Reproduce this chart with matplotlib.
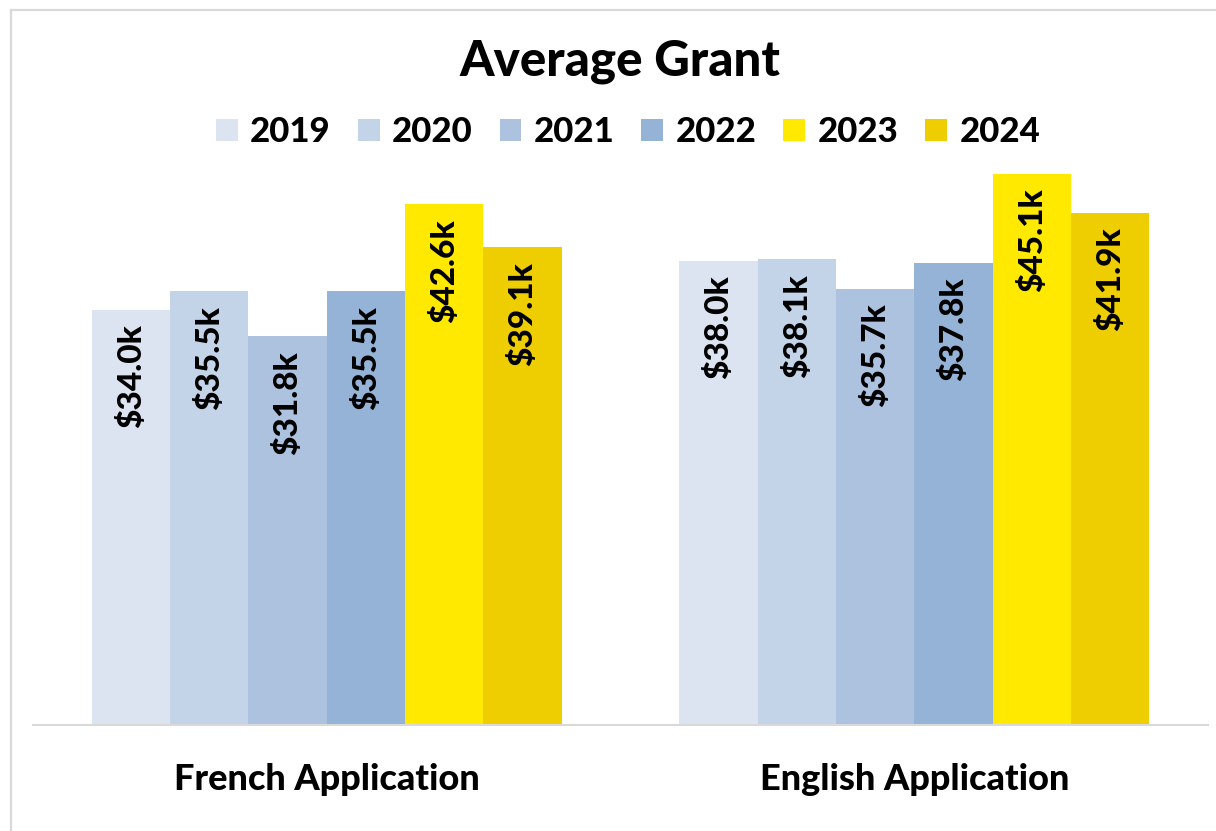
import matplotlib
matplotlib.use("Agg")
import matplotlib.pyplot as plt
from matplotlib.patches import Patch
from matplotlib.lines import Line2D
import numpy as np

categories = ["French Application", "English Application"]
years = ["2019", "2020", "2021", "2022", "2023", "2024"]
values = {
    "2019": [34.0, 38.0],
    "2020": [35.5, 38.1],
    "2021": [31.8, 35.7],
    "2022": [35.5, 37.8],
    "2023": [42.6, 45.1],
    "2024": [39.1, 41.9],
}
colors = ["#DBE4F0", "#C3D4E8", "#ACC2DF", "#95B3D7", "#FFE900", "#EECE00"]

plt.rcParams['font.family'] = ['Lato', 'DejaVu Sans']
WT = "black"

W, H = 1216, 831
fig = plt.figure(figsize=(W / 100, H / 100), dpi=100)
fig.patch.set_facecolor("white")

ax = fig.add_axes([33 / W, (H - 725) / H, 1175 / W, 611 / H])
x = np.arange(len(categories))
n = len(years)
bw = 0.8 / n
for i, (yr, c) in enumerate(zip(years, colors)):
    pos = x - 0.4 + bw * (i + 0.5)
    bars = ax.bar(pos, values[yr], width=bw, color=c, edgecolor="none", zorder=2)
    for b, v in zip(bars, values[yr]):
        ax.annotate(f"${v:.1f}k", (b.get_x() + b.get_width() / 2, v),
                    xytext=(0, -10.5), textcoords="offset points",
                    rotation=90, ha="center", va="top",
                    fontsize=24, fontweight=WT, color="black", zorder=3)

ax.set_xlim(-0.5, 1.5)
ax.set_ylim(0, 50)
ax.set_xticks(x)
ax.set_xticklabels(categories, fontsize=26, fontweight=WT)
ax.tick_params(axis="x", length=0, pad=27)
ax.set_yticks([])
for s in ["top", "right", "left"]:
    ax.spines[s].set_visible(False)
ax.spines["bottom"].set_color("#D9D9D9")
ax.spines["bottom"].set_linewidth(1.5)
ax.patch.set_alpha(0)

fig.text(620 / W, 1 - 62 / H, "Average Grant", ha="center", va="center",
         fontsize=35.5, fontweight=WT)

handles = [Patch(facecolor=c, edgecolor="none") for c in colors]
fig.legend(handles, years, loc="center", bbox_to_anchor=(628 / W, 1 - 132 / H),
           ncol=6, frameon=False, prop={"weight": WT, "size": 25},
           handlelength=0.63, handleheight=0.6, handletextpad=0.35, columnspacing=0.78)

# chart frame lines
fig.add_artist(Line2D([11 / W, 1.0], [1 - 10 / H, 1 - 10 / H], color="#D9D9D9", lw=1.6))
fig.add_artist(Line2D([11 / W, 11 / W], [0, 1 - 10 / H], color="#D9D9D9", lw=1.6))

fig.savefig("out.png", dpi=100)
